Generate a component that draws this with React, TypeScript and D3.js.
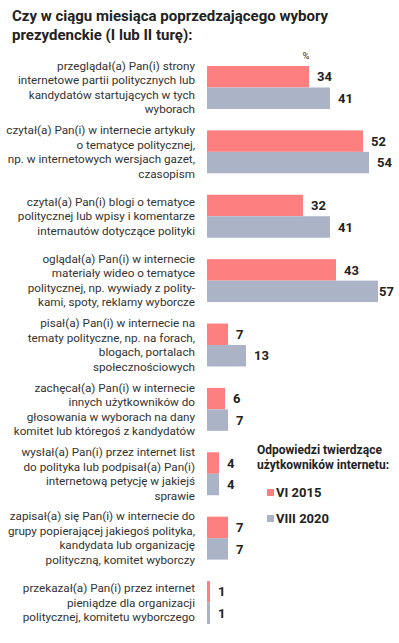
import React from 'react'
import * as d3 from 'd3'

const categories = [
    ['przeglądał(a) Pan(i) strony', 'internetowe partii politycznych lub', 'kandydatów startujących w tych', 'wyborach'],
    ['czytał(a) Pan(i) w internecie artykuły', 'o tematyce politycznej,', 'np. w internetowych wersjach gazet,', 'czasopism'],
    ['czytał(a) Pan(i) blogi o tematyce', 'politycznej lub wpisy i komentarze', 'internautów dotyczące polityki'],
    ['oglądał(a) Pan(i) w internecie', 'materiały wideo o tematyce', 'politycznej, np. wywiady z polity-', 'kami, spoty, reklamy wyborcze'],
    ['pisał(a) Pan(i) w internecie na', 'tematy polityczne, np. na forach,', 'blogach, portalach', 'społecznościowych'],
    ['zachęcał(a) Pan(i) w internecie', 'innych użytkowników do', 'głosowania w wyborach na dany', 'komitet lub któregoś z kandydatów'],
    ['wysłał(a) Pan(i) przez internet list', 'do polityka lub podpisał(a) Pan(i)', 'internetową petycję w jakiejś', 'sprawie'],
    ['zapisał(a) się Pan(i) w internecie do', 'grupy popierającej jakiegoś polityka,', 'kandydata lub organizację', 'polityczną, komitet wyborczy'],
    ['przekazał(a) Pan(i) przez internet', 'pieniądze dla organizacji', 'politycznej, komitetu wyborczego'],
]

const values2015 = [34, 52, 32, 43, 7, 6, 4, 7, 1]
const values2020 = [41, 54, 41, 57, 13, 7, 4, 7, 1]

const seriesNames = ['VI 2015', 'VIII 2020']
const seriesColors = ['#fe7f7f', '#abb4c6']

const titleLines = ['Czy w ciągu miesiąca poprzedzającego wybory', 'prezydenckie (I lub II turę):']
const legendTitle = ['Odpowiedzi twierdzące', 'użytkowników internetu:']

const W = 399
const H = 643

export default function App() {
    const ids = categories.map((c, i) => String(i))

    const y = d3.scaleBand<string>()
        .domain(ids)
        .range([66, 624])
        .paddingInner(0.333)
        .paddingOuter(0)

    const x = d3.scaleLinear().domain([0, 57]).range([207, 378])

    const inner = d3.scaleBand<number>()
        .domain([0, 1])
        .range([0, y.bandwidth()])

    const font = 'Roboto, "Noto Sans", sans-serif'

    return (
        <svg width={W} height={H} style={{ position: 'absolute', left: 0, top: 0 }} fontFamily={font}>
            <rect width={W} height={H} fill='#fff' />
            {titleLines.map((t, i) => (
                <text key={i} x={12} y={21 + i * 18.5} fontSize={15} fontWeight='bold' fill='#222'>{t}</text>
            ))}

            <text x={306} y={59} fontSize={9.5} fill='#333' textAnchor='middle'>%</text>

            {categories.map((lines, i) => {
                const y0 = y(String(i))!
                const mid = y0 + y.bandwidth() / 2
                const lh = 14.5
                const start = mid - (lines.length - 1) * lh / 2
                return (
                    <g key={i}>
                        {lines.map((l, j) => (
                            <text key={j} x={195} y={start + j * lh} dy='0.35em' textAnchor='end' fontSize={11.7} fill='#333'>{l}</text>
                        ))}
                        {[values2015[i], values2020[i]].map((v, k) => (
                            <g key={k}>
                                <rect x={x(0)} y={y0 + inner(k)!} width={x(v) - x(0)} height={inner.bandwidth()} fill={seriesColors[k]} />
                                <text x={Math.min(x(v) + 8, W - 20)} y={y0 + inner(k)! + inner.bandwidth() / 2} dy='0.36em' fontSize={13} fontWeight='bold' fill='#222'>{v}</text>
                            </g>
                        ))}
                    </g>
                )
            })}

            {legendTitle.map((t, i) => (
                <text key={i} x={257} y={454 + i * 15} fontSize={12} fontWeight='bold' fill='#222'>{t}</text>
            ))}
            {seriesNames.map((s, i) => (
                <g key={s} transform={`translate(267, ${489 + i * 26})`}>
                    <rect width={7} height={7} fill={seriesColors[i]} />
                    <text x={9} y={3.5} dy='0.36em' fontSize={13} fontWeight='bold' fill='#222'>{s}</text>
                </g>
            ))}
        </svg>
    )
}
